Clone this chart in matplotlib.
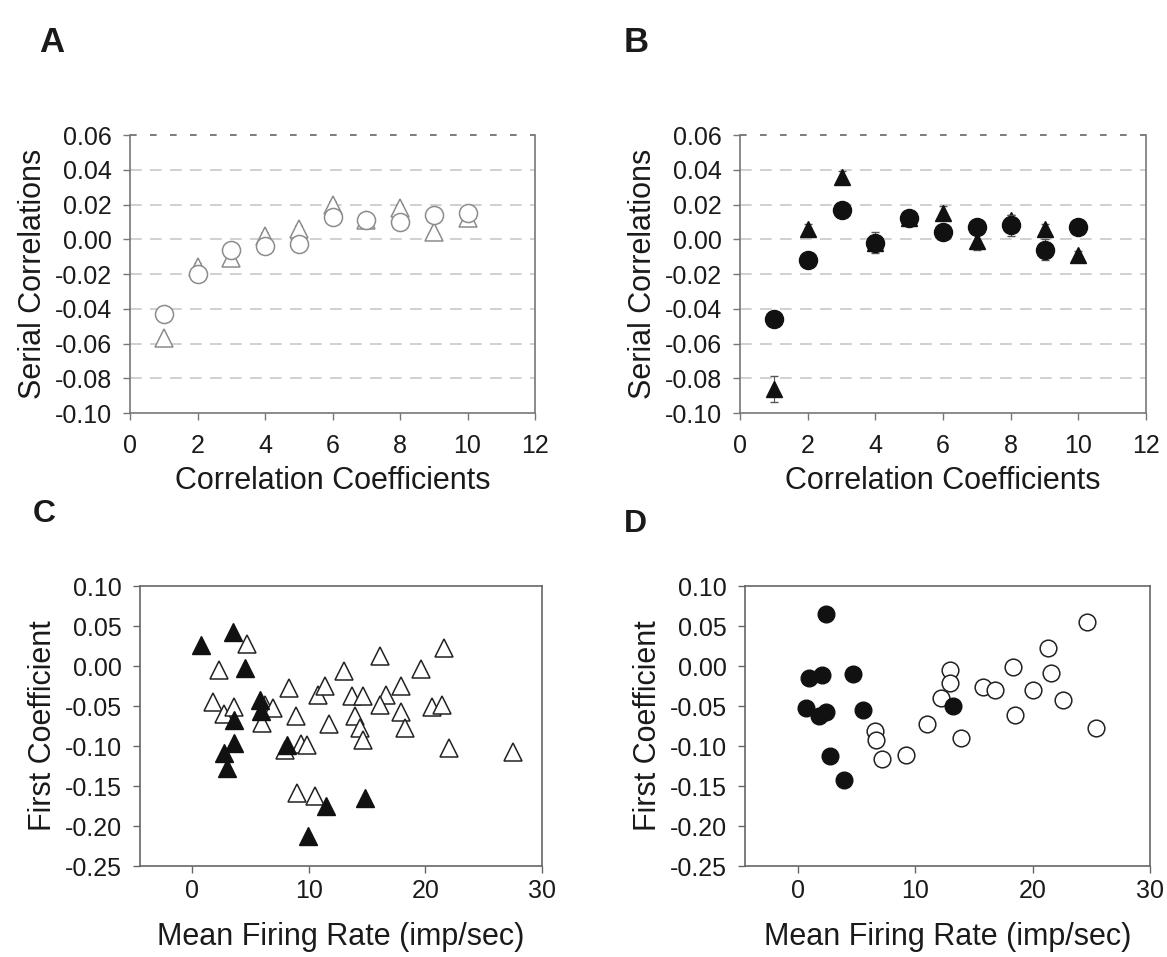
import numpy as np
import matplotlib
matplotlib.use('Agg')
import matplotlib.pyplot as plt

plt.rcParams['font.family'] = ['Liberation Sans', 'DejaVu Sans']

# Panel A / B: serial correlation coefficients 1..10
lags = [1, 2, 3, 4, 5, 6, 7, 8, 9, 10]
a_circles = [-0.043, -0.020, -0.006, -0.004, -0.003, 0.013, 0.011, 0.010, 0.014, 0.015]
a_triangles = [-0.057, -0.016, -0.011, 0.002, 0.006, 0.020, 0.011, 0.018, 0.004, 0.012]
a_err = [0.0015, 0.0015, 0.0015, 0.0015, 0.0015, 0.0015, 0.0015, 0.0015, 0.0015, 0.0015]

b_circles = [-0.046, -0.012, 0.017, -0.002, 0.012, 0.004, 0.007, 0.008, -0.006, 0.007]
b_circles_err = [0.003, 0.002, 0.002, 0.006, 0.002, 0.002, 0.002, 0.006, 0.006, 0.002]
b_triangles = [-0.086, 0.006, 0.036, -0.002, 0.012, 0.015, -0.001, 0.011, 0.006, -0.009]
b_triangles_err = [0.0075, 0.003, 0.003, 0.002, 0.002, 0.004, 0.005, 0.003, 0.003, 0.002]

# Panel C: triangles, first coefficient vs mean firing rate
c_filled_x = [0.7, 3.5, 4.5, 5.8, 5.9, 3.6, 3.6, 2.7, 3.0, 8.1, 11.5, 14.8, 9.9]
c_filled_y = [0.026, 0.043, -0.002, -0.042, -0.056, -0.067, -0.096, -0.109, -0.128,
              -0.099, -0.175, -0.165, -0.212]
c_open_x = [4.7, 2.3, 1.8, 2.7, 3.55, 6.2, 6.9, 6.0, 8.3, 8.9, 7.95, 9.3, 9.85, 8.95,
            10.5, 10.8, 11.4, 11.7, 13.0, 13.7, 14.6, 13.95, 14.4, 14.6, 16.1, 16.6,
            16.1, 17.9, 17.9, 18.2, 19.6, 20.6, 21.4, 21.6, 22.0, 27.5]
c_open_y = [0.028, -0.005, -0.045, -0.060, -0.051, -0.049, -0.052, -0.071, -0.028,
            -0.063, -0.105, -0.098, -0.099, -0.159, -0.163, -0.036, -0.025, -0.072,
            -0.006, -0.037, -0.037, -0.062, -0.078, -0.092, 0.012, -0.036, -0.049,
            -0.025, -0.058, -0.078, -0.004, -0.051, -0.049, 0.023, -0.103, -0.107]

# Panel D: circles
d_filled_x = [2.37, 0.96, 2.09, 4.69, 0.73, 1.81, 2.43, 5.54, 2.77, 3.93, 13.2]
d_filled_y = [0.065, -0.015, -0.011, -0.010, -0.053, -0.062, -0.058, -0.055, -0.113,
              -0.143, -0.050]
d_open_x = [6.58, 6.67, 7.15, 9.2, 11.0, 12.2, 13.0, 12.94, 13.9, 15.8, 16.8, 18.3,
            18.5, 20.0, 21.3, 21.6, 22.6, 24.6, 25.4]
d_open_y = [-0.081, -0.092, -0.116, -0.111, -0.072, -0.040, -0.005, -0.021, -0.090,
            -0.026, -0.030, -0.001, -0.061, -0.030, 0.022, -0.009, -0.042, 0.055, -0.078]

serial_ticks = [0.06, 0.04, 0.02, 0.00, -0.02, -0.04, -0.06, -0.08, -0.10]
first_ticks = [0.10, 0.05, 0.00, -0.05, -0.10, -0.15, -0.20, -0.25]

W, H = 1167, 957
fig = plt.figure(figsize=(W / 100, H / 100), dpi=100)

def box(l, t, r, b):
    return [l / W, 1 - b / H, (r - l) / W, (b - t) / H]

ax_a = fig.add_axes(box(130, 135, 535, 413))
ax_b = fig.add_axes(box(740, 135, 1146, 413))
ax_c = fig.add_axes(box(140, 586, 542, 866))
ax_d = fig.add_axes(box(745, 586, 1150, 866))

tick_fs = 18
label_fs = 22
text_col = '#1a1a1a'

def style_serial(ax):
    ax.set_xlim(0, 12)
    ax.set_ylim(-0.10, 0.06)
    ax.set_xticks(range(0, 13, 2))
    ax.set_yticks(serial_ticks)
    ax.set_yticklabels(['%.2f' % v for v in serial_ticks])
    for v in serial_ticks[1:-1]:
        ax.axhline(v, color='#c8c8c8', lw=1.2, dashes=(7, 5), zorder=0)
    ax.axhline(0.06, color='#666666', lw=1.2, dashes=(4, 8), zorder=0, clip_on=False)
    ax.spines['top'].set_visible(False)
    for s in ['left', 'right', 'bottom']:
        ax.spines[s].set_color('#777777')
        ax.spines[s].set_linewidth(1.2)
    ax.tick_params(colors='#777777', labelcolor=text_col, labelsize=tick_fs,
                   length=5, width=1)
    ax.tick_params(axis='x', pad=10)
    ax.tick_params(axis='y', pad=8)
    ax.set_xlabel('Correlation Coefficients', fontsize=label_fs, color=text_col, labelpad=6)
    ax.set_ylabel('Serial Correlations', fontsize=label_fs, color=text_col, labelpad=5)

def style_first(ax):
    ax.set_xlim(-4.5, 30)
    ax.set_ylim(-0.25, 0.10)
    ax.set_xticks([0, 10, 20, 30])
    ax.set_yticks(first_ticks)
    ax.set_yticklabels(['%.2f' % v for v in first_ticks])
    for s in ax.spines.values():
        s.set_color('#666666')
        s.set_linewidth(1.2)
    ax.tick_params(colors='#666666', labelcolor=text_col, labelsize=tick_fs,
                   length=5, width=1)
    ax.tick_params(axis='x', pad=4)
    ax.tick_params(axis='y', pad=8)
    ax.set_xlabel('Mean Firing Rate (imp/sec)', fontsize=label_fs, color=text_col, labelpad=14)
    ax.set_ylabel('First Coefficient', fontsize=label_fs, color=text_col, labelpad=5)

# A: open gray markers
gray = '#8c8c8c'
ax_a.errorbar(lags, a_triangles, yerr=a_err, fmt='^', ms=13, mfc='white', mec=gray,
              mew=1.1, ecolor=gray, elinewidth=0.8, capsize=3, zorder=3)
ax_a.errorbar(lags, a_circles, yerr=a_err, fmt='o', ms=13, mfc='white', mec=gray,
              mew=1.1, ecolor=gray, elinewidth=0.8, capsize=3, zorder=4)
style_serial(ax_a)

# B: filled black markers
ax_b.errorbar(lags, b_triangles, yerr=b_triangles_err, fmt='^', ms=11, mfc='#111111',
              mec='#111111', ecolor='#555555', elinewidth=0.8, capsize=3, zorder=3)
ax_b.errorbar(lags, b_circles, yerr=b_circles_err, fmt='o', ms=13, mfc='#111111',
              mec='#111111', ecolor='#555555', elinewidth=0.8, capsize=3, zorder=4)
style_serial(ax_b)

# C: triangles
ax_c.plot(c_open_x, c_open_y, '^', ms=13, mfc='white', mec='#222222', mew=1.1, ls='none', zorder=3)
ax_c.plot(c_filled_x, c_filled_y, '^', ms=13, mfc='#111111', mec='#111111', ls='none', zorder=4)
style_first(ax_c)

# D: circles
ax_d.plot(d_open_x, d_open_y, 'o', ms=12, mfc='white', mec='#222222', mew=1.1, ls='none', zorder=3)
ax_d.plot(d_filled_x, d_filled_y, 'o', ms=12, mfc='#111111', mec='#111111', ls='none', zorder=4)
style_first(ax_d)

# panel letters
for letter, (px, py), fs in zip('ABCD', [(39, 42), (624, 42), (33, 514), (624, 524)],
                                [25, 25, 23, 23]):
    fig.text(px / W, 1 - py / H, letter, fontsize=fs, fontweight='bold',
             color=text_col, va='center', ha='left')

fig.savefig('out.png', dpi=100, facecolor='white')
